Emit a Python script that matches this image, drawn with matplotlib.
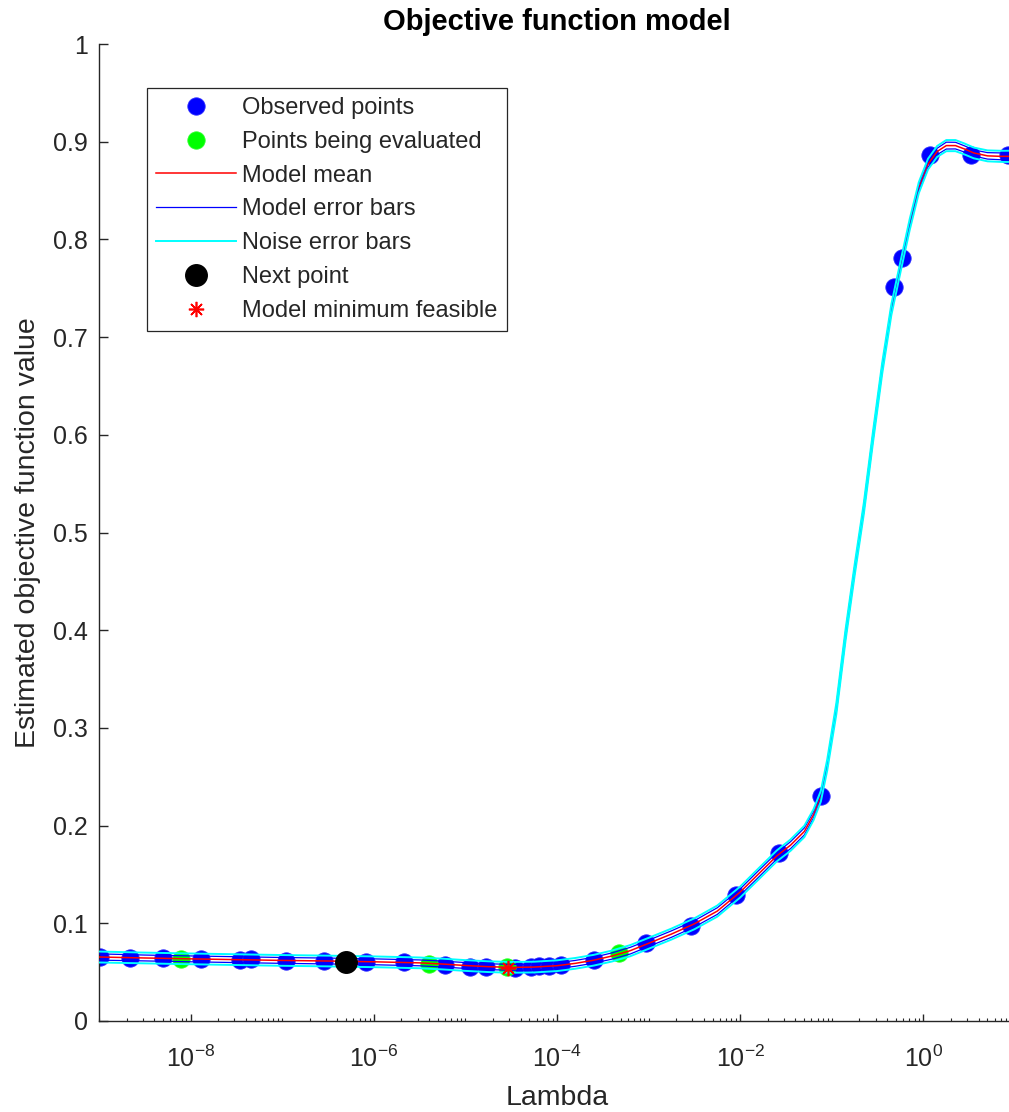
import matplotlib
matplotlib.use("Agg")
import matplotlib.pyplot as plt
import numpy as np
from matplotlib.ticker import FixedLocator, FixedFormatter, NullFormatter

plt.rcParams['font.family'] = ['Liberation Sans', 'DejaVu Sans']
plt.rcParams['mathtext.fontset'] = 'custom'
plt.rcParams['mathtext.rm'] = 'Liberation Sans'
plt.rcParams['mathtext.it'] = 'Liberation Sans:italic'
plt.rcParams['mathtext.bf'] = 'Liberation Sans:bold'

# ---------------- data ----------------
observed_lambda = [1.02e-9, 2.19e-9, 5.0e-9, 1.29e-8, 3.47e-8, 4.57e-8, 1.10e-7, 2.88e-7,
                   8.3e-7, 2.14e-6, 6.0e-6, 1.12e-5, 1.66e-5, 3.47e-5, 5.25e-5, 6.3e-5,
                   8.1e-5, 1.10e-4, 2.51e-4, 9.3e-4, 2.88e-3, 9.1e-3, 2.63e-2, 7.6e-2,
                   0.472, 0.589, 1.17, 3.35, 8.3]
observed_value = [0.0652, 0.0642, 0.0642, 0.0631, 0.0624, 0.0631, 0.0617, 0.0614,
                  0.0604, 0.0604, 0.0573, 0.0556, 0.0553, 0.0542, 0.0556, 0.0558,
                  0.0565, 0.0572, 0.0624, 0.0795, 0.0975, 0.129, 0.1716, 0.2303,
                  0.7516, 0.7807, 0.8864, 0.886, 0.886]

evaluating_lambda = [7.9e-9, 3.98e-6, 2.82e-5, 4.8e-4]
evaluating_value = [0.0635, 0.0583, 0.0548, 0.0700]

next_lambda = [5.0e-7]
next_value = [0.0607]

minimum_lambda = [2.95e-5]
minimum_value = [0.0547]

curve_log10_lambda = [-9, -8.5, -8, -7.5, -7, -6.5, -6, -5.5, -5.25, -5, -4.75, -4.5, -4.25,
                      -4, -3.8, -3.6, -3.4, -3.2, -3.0, -2.75, -2.5, -2.25, -2.0, -1.8,
                      -1.6, -1.45, -1.3, -1.2, -1.12, -1.05, -0.95, -0.85, -0.75, -0.65,
                      -0.55, -0.45, -0.35, -0.25, -0.15, -0.05, 0.05, 0.15, 0.25, 0.35,
                      0.45, 0.55, 0.7, 0.85, 1.0]
curve_mean = [0.0655, 0.0645, 0.0636, 0.0628, 0.0620, 0.0614, 0.0606, 0.0595, 0.0583,
              0.0568, 0.0556, 0.0549, 0.0552, 0.0566, 0.0590, 0.0622, 0.0665, 0.0720,
              0.0795, 0.0890, 0.0995, 0.1125, 0.1320, 0.1505, 0.1690, 0.1800, 0.1940,
              0.2110, 0.2300, 0.2620, 0.3200, 0.3950, 0.4620, 0.5250, 0.5980, 0.6680,
              0.7280, 0.7720, 0.8150, 0.8530, 0.8770, 0.8900, 0.8960, 0.8960, 0.8925,
              0.8885, 0.8855, 0.8850, 0.8850]
model_halfwidth = [0.0032, 0.0030, 0.0030, 0.0030, 0.0030, 0.0030, 0.0030, 0.0030, 0.0030,
                   0.0030, 0.0030, 0.0030, 0.0030, 0.0030, 0.0030, 0.0030, 0.0032, 0.0034,
                   0.0032, 0.0033, 0.0032, 0.0034, 0.0032, 0.0034, 0.0032, 0.0036, 0.0036,
                   0.0033, 0.0030, 0.0032, 0.0034, 0.0035, 0.0035, 0.0035, 0.0035, 0.0034,
                   0.0032, 0.0031, 0.0032, 0.0033, 0.0031, 0.0033, 0.0035, 0.0034, 0.0032,
                   0.0031, 0.0033, 0.0035, 0.0036]
noise_halfwidth = [0.0056, 0.0055, 0.0055, 0.0055, 0.0055, 0.0055, 0.0055, 0.0055, 0.0055,
                   0.0055, 0.0055, 0.0055, 0.0055, 0.0055, 0.0055, 0.0055, 0.0056, 0.0057,
                   0.0056, 0.0056, 0.0056, 0.0057, 0.0056, 0.0057, 0.0056, 0.0058, 0.0058,
                   0.0056, 0.0055, 0.0056, 0.0057, 0.0057, 0.0057, 0.0057, 0.0057, 0.0057,
                   0.0056, 0.0055, 0.0056, 0.0056, 0.0055, 0.0056, 0.0057, 0.0057, 0.0056,
                   0.0055, 0.0056, 0.0057, 0.0058]

xtick_values = [1e-8, 1e-6, 1e-4, 1e-2, 1e0]
xtick_labels = [r'$\mathregular{10^{-8}}$', r'$\mathregular{10^{-6}}$', r'$\mathregular{10^{-4}}$',
                r'$\mathregular{10^{-2}}$', r'$\mathregular{10^{0}}$']
ytick_values = [0, 0.1, 0.2, 0.3, 0.4, 0.5, 0.6, 0.7, 0.8, 0.9, 1.0]
ytick_labels = ['0', '0.1', '0.2', '0.3', '0.4', '0.5', '0.6', '0.7', '0.8', '0.9', '1']

# ---------------- figure ----------------
W, H = 1009, 1112
fig = plt.figure(figsize=(W / 100, H / 100), dpi=100)
ax = fig.add_axes([99 / W, (H - 1021) / H, 916 / W, 977 / H])

gray = '#262626'
curve_x = 10.0 ** np.array(curve_log10_lambda)
mean = np.array(curve_mean)
mh = np.array(model_halfwidth)
nh = np.array(noise_halfwidth)

h_obs, = ax.plot(observed_lambda, observed_value, 'o', color='#0000ff', markersize=12.5,
                 markeredgecolor='#2a2aff', markeredgewidth=0.6, linestyle='none', zorder=2)
h_eval, = ax.plot(evaluating_lambda, evaluating_value, 'o', color='#00ff00', markersize=12.5,
                  markeredgecolor='#2aff2a', markeredgewidth=0.6, linestyle='none', zorder=2)
h_mean, = ax.plot(curve_x, mean, '-', color='#ff0000', lw=1.1, zorder=3)
h_me, = ax.plot(curve_x, mean + mh, '-', color='#0000ff', lw=0.9, zorder=4)
ax.plot(curve_x, mean - mh, '-', color='#0000ff', lw=0.9, zorder=4)
h_ne, = ax.plot(curve_x, mean + nh, '-', color='#00ffff', lw=1.4, zorder=5)
ax.plot(curve_x, mean - nh, '-', color='#00ffff', lw=1.4, zorder=5)
h_next, = ax.plot(next_lambda, next_value, 'o', color='black', markersize=15.5,
                  linestyle='none', zorder=6)
h_min, = ax.plot(minimum_lambda, minimum_value, marker=(8, 2, 0), color='#ff0000',
                 markersize=11, markeredgewidth=1.2, linestyle='none', zorder=7)

ax.set_xscale('log')
ax.set_xlim(1e-9, 10)
ax.set_ylim(0, 1)

ax.xaxis.set_major_locator(FixedLocator(xtick_values))
ax.xaxis.set_major_formatter(FixedFormatter(xtick_labels))
minor_pos = []
for d in range(-9, 1):
    for k in range(1, 10):
        v = k * 10.0 ** d
        if k == 1 and d % 2 == 0:
            continue
        minor_pos.append(v)
ax.xaxis.set_minor_locator(FixedLocator(minor_pos))
ax.xaxis.set_minor_formatter(NullFormatter())
ax.set_yticks(ytick_values)
ax.set_yticklabels(ytick_labels)

for s in ['top', 'right']:
    ax.spines[s].set_visible(False)
for s in ['left', 'bottom']:
    ax.spines[s].set_color(gray)
    ax.spines[s].set_linewidth(1.0)

ax.tick_params(axis='both', which='both', direction='in', colors=gray, labelcolor=gray,
               labelsize=18)
ax.tick_params(axis='y', which='major', length=6.5, width=1.0, pad=8)
ax.tick_params(axis='x', which='major', length=5, width=1.0, pad=18)
ax.tick_params(axis='x', which='minor', length=2.5, width=0.8)

ax.set_xlabel('Lambda', fontsize=20.5, color=gray, labelpad=9)
ax.set_ylabel('Estimated objective function value', fontsize=20.5, color=gray, labelpad=9)
ax.set_title('Objective function model', fontsize=21, fontweight='bold', color='black', pad=10)

leg = ax.legend([h_obs, h_eval, h_mean, h_me, h_ne, h_next, h_min],
                ['Observed points', 'Points being evaluated', 'Model mean', 'Model error bars',
                 'Noise error bars', 'Next point', 'Model minimum feasible'],
                loc='upper left', bbox_to_anchor=((147 - 99) / 916, (1021 - 88) / 977),
                borderaxespad=0, fontsize=17, handlelength=3.4, handletextpad=0.25,
                labelspacing=0.5, borderpad=0.38, fancybox=False, framealpha=1,
                edgecolor=gray, numpoints=1)
leg.get_frame().set_linewidth(0.9)
for t in leg.get_texts():
    t.set_color(gray)

fig.savefig('out.png', dpi=100)
